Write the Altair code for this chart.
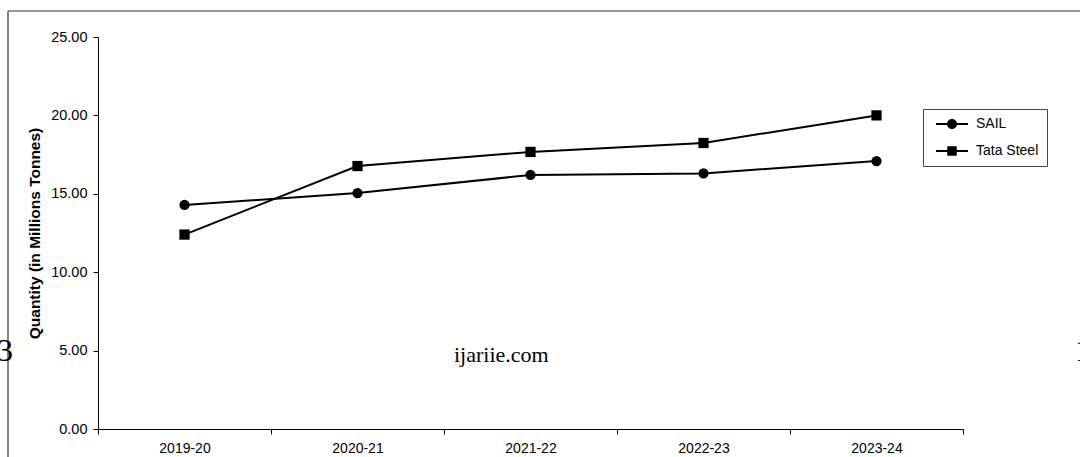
import altair as alt
import pandas as pd

years = ["2019-20", "2020-21", "2021-22", "2022-23", "2023-24"]
sail = [14.29, 15.05, 16.20, 16.30, 17.09]
tata = [12.40, 16.77, 17.67, 18.24, 20.00]
series = ["SAIL", "Tata Steel"]
y_ticks = [0, 5, 10, 15, 20, 25]

rows = []
for name, vals in zip(series, [sail, tata]):
    for yr, v in zip(years, vals):
        rows.append({"Year": yr, "Company": name, "Value": v})
df = pd.DataFrame(rows)

W, H = 865, 392
PL, PT = 98, 37

SAIL_PATH = "M-3.2,-0.2H3.2V0.2H-3.2Z M1,0A1,1 0 1,1 -1,0A1,1 0 1,1 1,0Z"
TATA_PATH = "M-3.2,-0.2H3.2V0.2H-3.2Z M-0.95,-0.95H0.95V0.95H-0.95Z"

x_enc = alt.X(
    "Year:N",
    sort=years,
    scale=alt.Scale(type="band", paddingInner=0, paddingOuter=0),
    axis=alt.Axis(
        title=None, labelAngle=0, tickBand="extent", tickSize=5,
        domainColor="black", tickColor="black", labelColor="black",
        labelFont="Liberation Sans", labelFontSize=14, labelPadding=7,
        grid=False,
    ),
)
y_enc = alt.Y(
    "Value:Q",
    scale=alt.Scale(domain=[0, 25], nice=False, zero=True),
    axis=alt.Axis(
        title="Quantity (in Millions Tonnes)", values=y_ticks, format=".2f",
        tickSize=5, domainColor="black", tickColor="black", labelColor="black",
        labelFont="Liberation Sans", labelFontSize=14.5, labelPadding=6,
        titleFont="Liberation Sans", titleFontSize=15.5, titleFontWeight="bold",
        titleColor="black", titlePadding=8, grid=False,
    ),
)

base = alt.Chart(df)

lines = base.mark_line(color="black", strokeWidth=2).encode(
    x=x_enc, y=y_enc, detail="Company:N"
)

points = base.mark_point(filled=True, opacity=1, size=105, color="black").encode(
    x=x_enc,
    y=y_enc,
    shape=alt.Shape(
        "Company:N",
        scale=alt.Scale(domain=series, range=["circle", "square"]),
        legend=None,
    ),
)

legend_layer = base.mark_point(filled=True, opacity=0, size=100, color="black").encode(
    x=x_enc,
    y=y_enc,
    shape=alt.Shape(
        "Company:N",
        scale=alt.Scale(domain=series, range=[SAIL_PATH, TATA_PATH]),
        legend=alt.Legend(
            title=None, orient="none", legendX=825, legendY=72,
            labelFont="Liberation Sans", labelFontSize=14, labelColor="black",
            symbolSize=100, symbolFillColor="black", symbolStrokeWidth=0,
            symbolOpacity=1,
            symbolOffset=14, labelOffset=17, rowPadding=13, padding=8,
            strokeColor="#444444", fillColor="white",
        ),
    ),
)

wm = pd.DataFrame({"t": ["ijariie.com"]})
watermark = alt.Chart(wm).mark_text(
    font="Liberation Serif", fontSize=22, color="black", align="left", baseline="alphabetic"
).encode(text="t:N", x=alt.value(454 - PL), y=alt.value(362 - PT))

p3 = pd.DataFrame({"t": ["3"]})
three = alt.Chart(p3).mark_text(
    font="Liberation Serif", fontSize=32, color="black", align="left", baseline="alphabetic"
).encode(text="t:N", x=alt.value(-PL - 3), y=alt.value(361 - PT))

p1 = pd.DataFrame({"t": ["1"]})
one = alt.Chart(p1).mark_text(
    font="Liberation Serif", fontSize=32, color="black", align="left", baseline="alphabetic"
).encode(text="t:N", x=alt.value(1075 - PL), y=alt.value(361 - PT))

frame_top = alt.Chart(wm).mark_rule(color="#333333", strokeWidth=1.2).encode(
    x=alt.value(8 - PL), x2=alt.value(1085 - PL), y=alt.value(11 - PT)
)
frame_left = alt.Chart(wm).mark_rule(color="#333333", strokeWidth=1.2).encode(
    x=alt.value(8 - PL), y=alt.value(11 - PT), y2=alt.value(460 - PT)
)

chart = alt.layer(frame_top, frame_left, lines, points, legend_layer, watermark, three, one).resolve_scale(
    shape="independent"
).properties(
    width=W, height=H,
    autosize=alt.AutoSizeParams(type="none"),
    padding={"left": PL, "top": PT, "right": 1080 - PL - W, "bottom": 457 - PT - H},
    view=alt.ViewBackground(stroke="transparent", strokeWidth=0),
).configure_view(stroke="transparent", strokeWidth=0).configure(background="white")

chart.save("out.html", embed_options={"renderer": "svg", "actions": False})
